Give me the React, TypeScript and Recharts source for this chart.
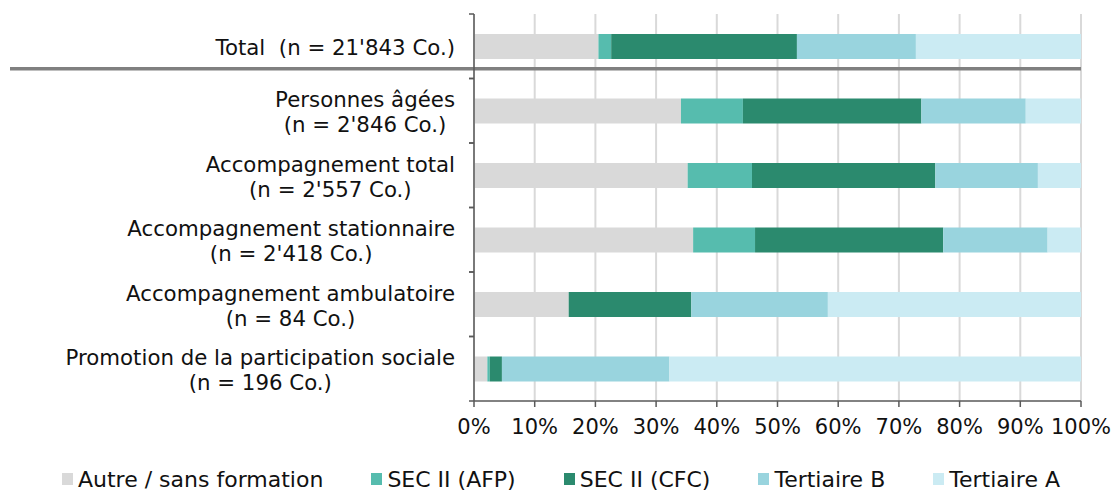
import React from 'react';
import { BarChart, Bar, XAxis, YAxis, CartesianGrid, Legend, ReferenceLine } from 'recharts';

// categories (labels split on \n are drawn as two centred lines)
const categories = [
  "Total  (n = 21'843 Co.)",
  "Personnes âgées\n(n = 2'846 Co.)",
  "Accompagnement total\n(n = 2'557 Co.)",
  "Accompagnement stationnaire\n(n = 2'418 Co.)",
  "Accompagnement ambulatoire\n(n = 84 Co.)",
  "Promotion de la participation sociale\n(n = 196 Co.)",
];

// shares in % per category
const autre = [20.5, 34.1, 35.2, 36.1, 15.6, 2.2];
const afp = [2.1, 10.2, 10.6, 10.2, 0, 0.4];
const cfc = [30.6, 29.4, 30.2, 31.0, 20.2, 2.0];
const tertB = [19.6, 17.2, 16.9, 17.2, 22.5, 27.6];
const tertA = [27.2, 9.1, 7.1, 5.5, 41.7, 67.8];

const xTicks = [0, 10, 20, 30, 40, 50, 60, 70, 80, 90, 100];

const seriesNames = ['Autre / sans formation', 'SEC II (AFP)', 'SEC II (CFC)', 'Tertiaire B', 'Tertiaire A'];
const seriesKeys = ['autre', 'afp', 'cfc', 'tertB', 'tertA'];
const COLORS = ['#d9d9d9', '#56bcae', '#2b8a6e', '#99d4de', '#cbebf3'];

const data = categories.map((name, i) => ({
  name,
  autre: autre[i],
  afp: afp[i],
  cfc: cfc[i],
  tertB: tertB[i],
  tertA: tertA[i],
}));

const FONT = '"DejaVu Sans", Verdana, sans-serif';
const FONT_SIZE = 21;
const LABEL_SIZE = 21.3;
const LEGEND_SIZE = 22;
const AXIS_COLOR = '#595959';
const TEXT_COLOR = '#111111';
const BAR_SIZE = 25;

let canvasCtx: CanvasRenderingContext2D | null = null;
const textWidth = (s: string) => {
  if (!canvasCtx) canvasCtx = document.createElement('canvas').getContext('2d');
  if (!canvasCtx) return s.length * LABEL_SIZE * 0.6;
  canvasCtx.font = `${LABEL_SIZE}px "DejaVu Sans"`;
  return canvasCtx.measureText(s).width;
};

// label block right-aligned to the axis, lines centred on each other
const YTick = ({ x, y, payload }: any) => {
  const lines = String(payload.value).split('\n');
  const half = payload.offset || 32.5;
  const maxW = Math.max(...lines.map(textWidth));
  const cx = x - 19 - maxW / 2;
  const lineH = 25;
  const start = y - ((lines.length - 1) * lineH) / 2;
  return (
    <g>
      <line x1={x - 5} x2={x} y1={y - half} y2={y - half} stroke={AXIS_COLOR} strokeWidth={1.5} />
      <line x1={x - 5} x2={x} y1={y + half} y2={y + half} stroke={AXIS_COLOR} strokeWidth={1.5} />
      {lines.map((l, i) => (
        <text
          key={i}
          x={cx}
          y={start + i * lineH + 9}
          textAnchor="middle"
          fontSize={LABEL_SIZE}
          fontFamily={FONT}
          fill={TEXT_COLOR}
          style={{ whiteSpace: 'pre' }}
        >
          {l}
        </text>
      ))}
    </g>
  );
};

const renderLegend = () => (
  <div
    style={{
      display: 'flex',
      justifyContent: 'center',
      alignItems: 'center',
      gap: 48,
      height: 24,
      paddingTop: 3,
      fontFamily: FONT,
      fontSize: LEGEND_SIZE,
      color: TEXT_COLOR,
      paddingLeft: 8,
    }}
  >
    {seriesNames.map((n, i) => (
      <div key={n} style={{ display: 'flex', alignItems: 'center', whiteSpace: 'nowrap' }}>
        <span style={{ display: 'inline-block', width: 11, height: 12, background: COLORS[i], marginRight: 5 }} />
        {n}
      </div>
    ))}
  </div>
);

// thick separator under the "Total" row, running into the label area
const Separator = (props: any) => {
  const y = props.y1 + BAR_SIZE / 2 + 10;
  return <line x1={10} x2={props.x2} y1={y} y2={y} stroke="#808080" strokeWidth={3.5} />;
};

export default function App() {
  return (
    <div style={{ position: 'absolute', left: 0, top: 0, background: '#fff' }}>
      <BarChart
        width={1114}
        height={491}
        data={data}
        layout="vertical"
        margin={{ top: 14, right: 33, bottom: 0, left: 0 }}
        barCategoryGap={0}
        style={{ fontFamily: FONT }}
      >
        <CartesianGrid horizontal={false} stroke="#d9d9d9" strokeWidth={2} />
        <XAxis
          type="number"
          domain={[0, 100]}
          ticks={xTicks}
          interval={0}
          tickFormatter={(v) => `${v}%`}
          height={63}
          tickSize={6}
          tickMargin={12}
          axisLine={{ stroke: AXIS_COLOR, strokeWidth: 1.5 }}
          tickLine={{ stroke: AXIS_COLOR, strokeWidth: 1.5 }}
          tick={{ fill: TEXT_COLOR, fontSize: FONT_SIZE, fontFamily: FONT }}
        />
        <YAxis
          type="category"
          dataKey="name"
          width={474}
          interval={0}
          tickSize={0}
          tickMargin={0}
          tickLine={false}
          axisLine={{ stroke: AXIS_COLOR, strokeWidth: 1.5 }}
          tick={<YTick />}
        />
        {seriesKeys.map((k, i) => (
          <Bar
            key={k}
            dataKey={k}
            name={seriesNames[i]}
            stackId="a"
            fill={COLORS[i]}
            barSize={BAR_SIZE}
            isAnimationActive={false}
          />
        ))}
        <ReferenceLine y={categories[0]} shape={<Separator />} ifOverflow="visible" />
        <Legend
          verticalAlign="bottom"
          content={renderLegend}
          wrapperStyle={{ left: 0, width: 1114 }}
        />
      </BarChart>
    </div>
  );
}
